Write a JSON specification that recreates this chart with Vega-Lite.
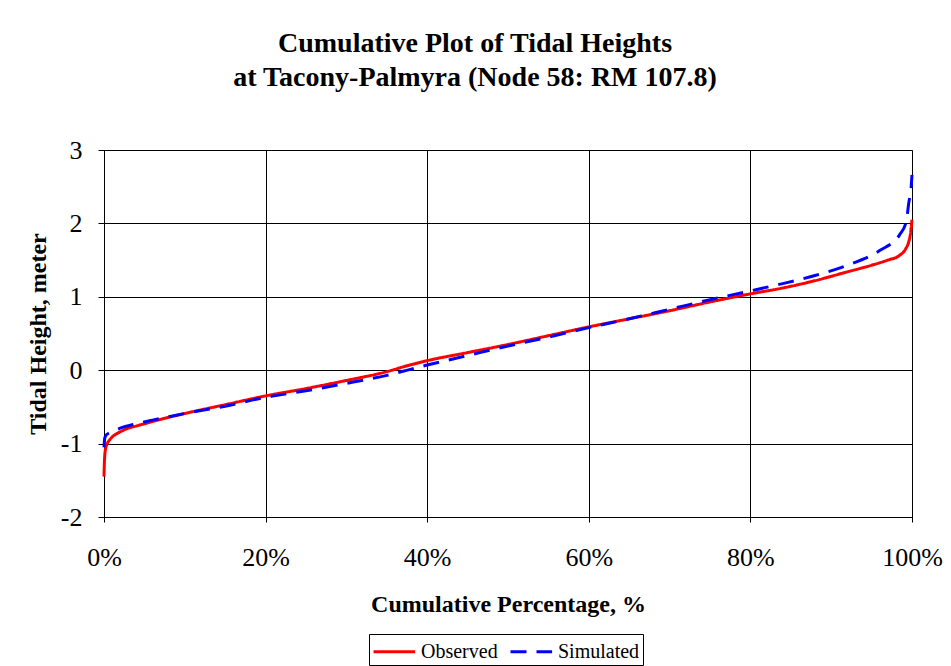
{
  "$schema": "https://vega.github.io/schema/vega-lite/v6.json",
  "width": 808,
  "height": 367,
  "autosize": {"type": "none"},
  "padding": {"left": 104, "top": 150, "right": 39, "bottom": 149},
  "background": "white",
  "title": {
    "text": ["Cumulative Plot of Tidal Heights", "at Tacony-Palmyra (Node 58: RM 107.8)"],
    "font": "Liberation Serif",
    "fontSize": 28,
    "fontWeight": "bold",
    "color": "black",
    "lineHeight": 34,
    "offset": 45,
    "dx": -33,
    "anchor": "middle"
  },
  "data": {
    "values": [
      {"pct": 0, "h": -1.45, "series": "Observed"},
      {"pct": 0.0005, "h": -1.25, "series": "Observed"},
      {"pct": 0.001, "h": -1.15, "series": "Observed"},
      {"pct": 0.002, "h": -1.07, "series": "Observed"},
      {"pct": 0.004, "h": -1.0, "series": "Observed"},
      {"pct": 0.007, "h": -0.95, "series": "Observed"},
      {"pct": 0.01, "h": -0.91, "series": "Observed"},
      {"pct": 0.015, "h": -0.87, "series": "Observed"},
      {"pct": 0.02, "h": -0.84, "series": "Observed"},
      {"pct": 0.03, "h": -0.79, "series": "Observed"},
      {"pct": 0.04, "h": -0.76, "series": "Observed"},
      {"pct": 0.05, "h": -0.73, "series": "Observed"},
      {"pct": 0.07, "h": -0.67, "series": "Observed"},
      {"pct": 0.10, "h": -0.59, "series": "Observed"},
      {"pct": 0.15, "h": -0.47, "series": "Observed"},
      {"pct": 0.20, "h": -0.35, "series": "Observed"},
      {"pct": 0.25, "h": -0.25, "series": "Observed"},
      {"pct": 0.30, "h": -0.14, "series": "Observed"},
      {"pct": 0.35, "h": -0.02, "series": "Observed"},
      {"pct": 0.375, "h": 0.06, "series": "Observed"},
      {"pct": 0.40, "h": 0.13, "series": "Observed"},
      {"pct": 0.45, "h": 0.24, "series": "Observed"},
      {"pct": 0.50, "h": 0.35, "series": "Observed"},
      {"pct": 0.55, "h": 0.47, "series": "Observed"},
      {"pct": 0.60, "h": 0.59, "series": "Observed"},
      {"pct": 0.65, "h": 0.70, "series": "Observed"},
      {"pct": 0.70, "h": 0.81, "series": "Observed"},
      {"pct": 0.75, "h": 0.93, "series": "Observed"},
      {"pct": 0.80, "h": 1.04, "series": "Observed"},
      {"pct": 0.84, "h": 1.12, "series": "Observed"},
      {"pct": 0.88, "h": 1.22, "series": "Observed"},
      {"pct": 0.92, "h": 1.34, "series": "Observed"},
      {"pct": 0.95, "h": 1.43, "series": "Observed"},
      {"pct": 0.97, "h": 1.50, "series": "Observed"},
      {"pct": 0.984, "h": 1.56, "series": "Observed"},
      {"pct": 0.992, "h": 1.65, "series": "Observed"},
      {"pct": 0.996, "h": 1.75, "series": "Observed"},
      {"pct": 0.998, "h": 1.85, "series": "Observed"},
      {"pct": 1.0, "h": 2.05, "series": "Observed"},
      {"pct": 0, "h": -1.05, "series": "Simulated"},
      {"pct": 0.001, "h": -0.92, "series": "Simulated"},
      {"pct": 0.003, "h": -0.88, "series": "Simulated"},
      {"pct": 0.01, "h": -0.84, "series": "Simulated"},
      {"pct": 0.02, "h": -0.79, "series": "Simulated"},
      {"pct": 0.04, "h": -0.73, "series": "Simulated"},
      {"pct": 0.06, "h": -0.68, "series": "Simulated"},
      {"pct": 0.10, "h": -0.59, "series": "Simulated"},
      {"pct": 0.15, "h": -0.49, "series": "Simulated"},
      {"pct": 0.20, "h": -0.37, "series": "Simulated"},
      {"pct": 0.25, "h": -0.28, "series": "Simulated"},
      {"pct": 0.30, "h": -0.18, "series": "Simulated"},
      {"pct": 0.35, "h": -0.07, "series": "Simulated"},
      {"pct": 0.40, "h": 0.07, "series": "Simulated"},
      {"pct": 0.45, "h": 0.20, "series": "Simulated"},
      {"pct": 0.50, "h": 0.33, "series": "Simulated"},
      {"pct": 0.55, "h": 0.45, "series": "Simulated"},
      {"pct": 0.60, "h": 0.58, "series": "Simulated"},
      {"pct": 0.65, "h": 0.70, "series": "Simulated"},
      {"pct": 0.70, "h": 0.83, "series": "Simulated"},
      {"pct": 0.75, "h": 0.96, "series": "Simulated"},
      {"pct": 0.80, "h": 1.08, "series": "Simulated"},
      {"pct": 0.84, "h": 1.18, "series": "Simulated"},
      {"pct": 0.88, "h": 1.29, "series": "Simulated"},
      {"pct": 0.92, "h": 1.43, "series": "Simulated"},
      {"pct": 0.96, "h": 1.63, "series": "Simulated"},
      {"pct": 0.985, "h": 1.85, "series": "Simulated"},
      {"pct": 0.993, "h": 2.03, "series": "Simulated"},
      {"pct": 0.996, "h": 2.28, "series": "Simulated"},
      {"pct": 0.999, "h": 2.5, "series": "Simulated"},
      {"pct": 1.0, "h": 2.66, "series": "Simulated"}
    ]
  },
  "mark": {"type": "line", "strokeWidth": 3, "interpolate": "monotone"},
  "encoding": {
    "x": {
      "field": "pct",
      "type": "quantitative",
      "scale": {"domain": [0, 1], "nice": false},
      "axis": {
        "title": "Cumulative Percentage, %",
        "format": ".0%",
        "values": [0, 0.2, 0.4, 0.6, 0.8, 1.0],
        "labelFlush": false,
        "tickSize": 5,
        "labelPadding": 22,
        "titlePadding": 22
      }
    },
    "y": {
      "field": "h",
      "type": "quantitative",
      "scale": {"domain": [-2, 3], "nice": false},
      "axis": {
        "title": "Tidal Height, meter",
        "values": [-2, -1, 0, 1, 2, 3],
        "labelExpr": "replace(datum.label, '−', '-')",
        "labelFlush": false,
        "tickSize": 6,
        "labelPadding": 16,
        "titlePadding": 10
      }
    },
    "color": {
      "field": "series",
      "type": "nominal",
      "scale": {"domain": ["Observed", "Simulated"], "range": ["#ff0000", "#0000ff"]},
      "legend": {"title": null}
    },
    "strokeDash": {
      "field": "series",
      "type": "nominal",
      "scale": {"domain": ["Observed", "Simulated"], "range": [[1, 0], [16, 10]]},
      "legend": {"title": null}
    }
  },
  "config": {
    "font": "Liberation Serif",
    "view": {"stroke": "#808080", "strokeWidth": 1},
    "axis": {
      "labelFont": "Liberation Serif",
      "labelFontSize": 26,
      "labelColor": "black",
      "titleFont": "Liberation Serif",
      "titleFontSize": 24,
      "titleFontWeight": "bold",
      "titleColor": "black",
      "domainColor": "black",
      "tickColor": "black",
      "gridColor": "black",
      "gridOpacity": 1,
      "grid": true
    },
    "legend": {
      "orient": "none",
      "legendX": 265,
      "legendY": 484,
      "direction": "horizontal",
      "labelFont": "Liberation Serif",
      "labelFontSize": 20,
      "labelColor": "black",
      "symbolType": "M-1,0H2.2",
      "symbolSize": 676,
      "symbolStrokeWidth": 3,
      "strokeColor": "black",
      "padding": 3,
      "columnPadding": 6,
      "labelOffset": 20
    }
  }
}
